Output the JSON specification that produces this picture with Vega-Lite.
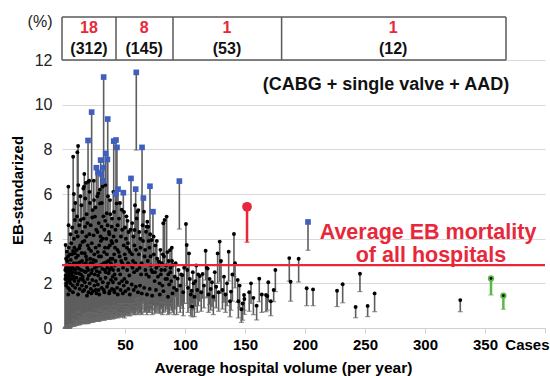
{
"$schema":"https://vega.github.io/schema/vega-lite/v6.json",
"width":483,"height":311,
"autosize":{"type":"none"},
"padding":{"left":62,"top":17,"right":5,"bottom":48},
"config":{"font":"Liberation Sans","view":{"stroke":null}},
"datasets":{
"h":[
{"x":0.5,"hi":3.72,"lo":0.05,"g":"n"},{"x":0.8,"hi":2.7,"lo":0,"g":"n"},{"x":1.2,"hi":2.55,"lo":0,"g":"n"},{"x":1.6,"hi":3.42,"lo":0.05,"g":"n"},{"x":2.0,"hi":2.62,"lo":0,"g":"n"},{"x":2.4,"hi":2.48,"lo":0,"g":"n"},{"x":2.8,"hi":6.33,"lo":0.3,"g":"n"},{"x":3.1,"hi":2.72,"lo":0.05,"g":"n"},{"x":3.5,"hi":2.4,"lo":0,"g":"n"},{"x":3.9,"hi":2.85,"lo":0.1,"g":"n"},{"x":4.3,"hi":2.55,"lo":0.05,"g":"n"},{"x":4.8,"hi":3.05,"lo":0.1,"g":"n"},
{"x":5.3,"hi":2.68,"lo":0.1,"g":"n"},{"x":5.8,"hi":3.3,"lo":0.15,"g":"n"},{"x":6.2,"hi":2.5,"lo":0.1,"g":"n"},{"x":6.9,"hi":5.28,"lo":0.35,"g":"n"},{"x":7.3,"hi":2.9,"lo":0.15,"g":"n"},{"x":7.8,"hi":3.6,"lo":0.2,"g":"n"},{"x":8.3,"hi":4.84,"lo":0.3,"g":"n"},{"x":8.8,"hi":2.6,"lo":0.15,"g":"n"},{"x":9.2,"hi":3.15,"lo":0.2,"g":"n"},{"x":9.7,"hi":3.49,"lo":0.25,"g":"n"},
{"x":10.2,"hi":2.75,"lo":0.2,"g":"n"},{"x":10.6,"hi":4.1,"lo":0.3,"g":"n"},{"x":11.1,"hi":6.4,"lo":0.5,"g":"n"},{"x":11.5,"hi":2.45,"lo":0.15,"g":"n"},{"x":11.9,"hi":3.57,"lo":0.3,"g":"n"},{"x":12.4,"hi":2.95,"lo":0.25,"g":"n"},{"x":13.0,"hi":4.84,"lo":0.4,"g":"n"},{"x":13.5,"hi":2.6,"lo":0.2,"g":"n"},{"x":13.9,"hi":3.36,"lo":0.3,"g":"n"},{"x":14.4,"hi":4.3,"lo":0.35,"g":"n"},{"x":14.8,"hi":2.3,"lo":0.2,"g":"n"},
{"x":15.3,"hi":6.25,"lo":0.6,"g":"n"},{"x":15.7,"hi":2.85,"lo":0.3,"g":"n"},{"x":16.2,"hi":3.9,"lo":0.35,"g":"n"},{"x":16.7,"hi":4.54,"lo":0.45,"g":"n"},{"x":17.1,"hi":2.5,"lo":0.25,"g":"n"},{"x":17.5,"hi":3.2,"lo":0.35,"g":"n"},{"x":18.0,"hi":5.1,"lo":0.5,"g":"n"},{"x":18.5,"hi":2.7,"lo":0.3,"g":"n"},{"x":19.0,"hi":3.7,"lo":0.4,"g":"n"},{"x":19.4,"hi":6.55,"lo":0.7,"g":"n"},{"x":19.8,"hi":2.35,"lo":0.25,"g":"n"},
{"x":20.3,"hi":4.2,"lo":0.45,"g":"n"},{"x":20.8,"hi":5.6,"lo":0.65,"g":"n"},{"x":21.2,"hi":2.9,"lo":0.35,"g":"n"},{"x":21.7,"hi":3.45,"lo":0.4,"g":"n"},{"x":22.5,"hi":2.6,"lo":0.3,"g":"n"},{"x":23.0,"hi":5.28,"lo":0.6,"g":"n"},{"x":23.6,"hi":3.05,"lo":0.4,"g":"n"},{"x":24.2,"hi":5.73,"lo":0.7,"g":"n"},{"x":24.7,"hi":2.4,"lo":0.3,"g":"n"},
{"x":25.0,"hi":4.99,"lo":0.65,"g":"n"},{"x":25.5,"hi":3.6,"lo":0.45,"g":"n"},{"x":26.6,"hi":2.75,"lo":0.4,"g":"n"},{"x":27.1,"hi":4.3,"lo":0.55,"g":"n"},{"x":27.8,"hi":6.03,"lo":0.8,"g":"n"},{"x":28.3,"hi":3.2,"lo":0.45,"g":"n"},{"x":28.8,"hi":2.5,"lo":0.35,"g":"n"},{"x":29.2,"hi":5.58,"lo":0.75,"g":"n"},{"x":29.9,"hi":3.9,"lo":0.5,"g":"n"},
{"x":30.4,"hi":4.54,"lo":0.65,"g":"n"},{"x":30.9,"hi":2.85,"lo":0.45,"g":"n"},{"x":31.3,"hi":6.33,"lo":0.9,"g":"n"},{"x":32.6,"hi":3.4,"lo":0.55,"g":"n"},{"x":33.1,"hi":2.6,"lo":0.4,"g":"n"},{"x":33.5,"hi":4.8,"lo":0.7,"g":"n"},{"x":34.3,"hi":2.95,"lo":0.5,"g":"n"},{"x":34.7,"hi":5.14,"lo":0.8,"g":"n"},
{"x":35.9,"hi":3.6,"lo":0.6,"g":"n"},{"x":36.4,"hi":2.45,"lo":0.4,"g":"n"},{"x":36.9,"hi":4.2,"lo":0.7,"g":"n"},{"x":37.5,"hi":5.73,"lo":0.9,"g":"n"},{"x":38.0,"hi":3.1,"lo":0.55,"g":"n"},{"x":38.5,"hi":2.7,"lo":0.5,"g":"n"},{"x":38.9,"hi":4.54,"lo":0.8,"g":"n"},{"x":39.4,"hi":3.8,"lo":0.7,"g":"n"},{"x":39.8,"hi":2.3,"lo":0.4,"g":"n"},
{"x":40.3,"hi":6.1,"lo":1.0,"g":"n"},{"x":41.0,"hi":3.3,"lo":0.6,"g":"n"},{"x":41.5,"hi":2.8,"lo":0.55,"g":"n"},{"x":42.0,"hi":4.4,"lo":0.8,"g":"n"},{"x":43.0,"hi":5.58,"lo":1.0,"g":"n"},{"x":43.7,"hi":3.5,"lo":0.7,"g":"n"},{"x":44.5,"hi":2.6,"lo":0.5,"g":"n"},
{"x":45.0,"hi":4.9,"lo":0.95,"g":"n"},{"x":45.5,"hi":3.2,"lo":0.65,"g":"n"},{"x":46.0,"hi":2.4,"lo":0.5,"g":"n"},{"x":46.6,"hi":4.1,"lo":0.85,"g":"n"},{"x":47.2,"hi":5.3,"lo":1.05,"g":"n"},{"x":47.8,"hi":2.9,"lo":0.6,"g":"n"},{"x":48.9,"hi":3.7,"lo":0.8,"g":"n"},{"x":49.5,"hi":2.2,"lo":0.45,"g":"n"},
{"x":50.0,"hi":4.5,"lo":0.95,"g":"n"},{"x":50.6,"hi":3.1,"lo":0.7,"g":"n"},{"x":51.2,"hi":5.0,"lo":1.1,"g":"n"},{"x":51.8,"hi":2.6,"lo":0.6,"g":"n"},{"x":52.4,"hi":3.8,"lo":0.85,"g":"n"},{"x":53.0,"hi":4.3,"lo":0.95,"g":"n"},{"x":53.6,"hi":2.35,"lo":0.55,"g":"n"},{"x":54.2,"hi":3.4,"lo":0.8,"g":"n"},{"x":55.3,"hi":2.8,"lo":0.7,"g":"n"},
{"x":56.0,"hi":4.7,"lo":1.1,"g":"n"},{"x":56.6,"hi":3.0,"lo":0.75,"g":"n"},{"x":57.0,"hi":4.1,"lo":1.0,"g":"n"},{"x":57.6,"hi":2.5,"lo":0.6,"g":"n"},{"x":58.0,"hi":4.39,"lo":1.1,"g":"n"},{"x":58.3,"hi":5.5,"lo":1.3,"g":"n"},{"x":59.7,"hi":4.91,"lo":1.2,"g":"n"},{"x":60.3,"hi":5.21,"lo":1.3,"g":"n"},
{"x":61.1,"hi":5.28,"lo":1.35,"g":"n"},{"x":61.6,"hi":3.3,"lo":0.85,"g":"n"},{"x":62.2,"hi":2.7,"lo":0.7,"g":"n"},{"x":62.8,"hi":4.0,"lo":1.0,"g":"n"},{"x":63.4,"hi":2.4,"lo":0.65,"g":"n"},{"x":64.7,"hi":4.6,"lo":1.2,"g":"n"},{"x":65.8,"hi":5.21,"lo":1.4,"g":"n"},
{"x":66.3,"hi":3.2,"lo":0.9,"g":"n"},{"x":67.0,"hi":2.6,"lo":0.75,"g":"n"},{"x":67.5,"hi":4.31,"lo":1.2,"g":"n"},{"x":68.0,"hi":4.54,"lo":1.3,"g":"n"},{"x":68.6,"hi":4.76,"lo":1.35,"g":"n"},{"x":69.0,"hi":3.0,"lo":0.85,"g":"n"},{"x":69.4,"hi":4.54,"lo":1.3,"g":"n"},{"x":69.9,"hi":2.3,"lo":0.7,"g":"n"},
{"x":70.3,"hi":3.6,"lo":1.05,"g":"n"},{"x":71.0,"hi":4.2,"lo":1.25,"g":"n"},{"x":71.6,"hi":2.8,"lo":0.85,"g":"n"},{"x":72.3,"hi":3.94,"lo":1.6,"g":"n"},{"x":73.0,"hi":2.5,"lo":0.8,"g":"n"},{"x":74.0,"hi":3.3,"lo":1.0,"g":"n"},{"x":74.7,"hi":2.1,"lo":0.65,"g":"n"},
{"x":75.3,"hi":3.7,"lo":1.2,"g":"n"},{"x":76.0,"hi":2.7,"lo":0.9,"g":"n"},{"x":76.8,"hi":3.1,"lo":1.0,"g":"n"},{"x":77.5,"hi":2.3,"lo":0.75,"g":"n"},{"x":78.3,"hi":2.97,"lo":1.63,"g":"n"},{"x":78.8,"hi":2.0,"lo":0.7,"g":"n"},{"x":79.5,"hi":3.5,"lo":1.15,"g":"n"},
{"x":80.2,"hi":2.6,"lo":0.9,"g":"n"},{"x":80.6,"hi":2.9,"lo":1.55,"g":"n"},{"x":81.2,"hi":1.9,"lo":0.6,"g":"n"},{"x":81.9,"hi":4.69,"lo":2.6,"g":"n"},{"x":82.5,"hi":3.2,"lo":1.1,"g":"n"},{"x":83.0,"hi":4.84,"lo":2.75,"g":"n"},{"x":83.6,"hi":2.2,"lo":0.75,"g":"n"},{"x":84.2,"hi":2.8,"lo":1.0,"g":"n"},{"x":84.7,"hi":4.99,"lo":2.7,"g":"n"},{"x":85.3,"hi":3.4,"lo":1.2,"g":"n"},
{"x":86.0,"hi":2.4,"lo":0.85,"g":"n"},{"x":86.8,"hi":1.95,"lo":0.65,"g":"n"},{"x":87.5,"hi":3.49,"lo":2.15,"g":"n"},{"x":87.8,"hi":2.5,"lo":0.95,"g":"n"},{"x":88.5,"hi":2.1,"lo":0.8,"g":"n"},{"x":89.2,"hi":3.0,"lo":1.1,"g":"n"},{"x":90.0,"hi":2.82,"lo":1.4,"g":"n"},
{"x":90.8,"hi":1.8,"lo":0.6,"g":"n"},{"x":91.5,"hi":2.3,"lo":0.85,"g":"n"},{"x":92.2,"hi":2.9,"lo":1.4,"g":"n"},{"x":93.0,"hi":1.7,"lo":0.6,"g":"n"},{"x":93.9,"hi":2.21,"lo":0.96,"g":"n"},{"x":94.6,"hi":2.6,"lo":1.0,"g":"n"},{"x":96.0,"hi":1.9,"lo":0.7,"g":"n"},{"x":96.8,"hi":2.4,"lo":1.0,"g":"n"},{"x":97.8,"hi":2.37,"lo":0.88,"g":"n"},{"x":98.5,"hi":1.6,"lo":0.55,"g":"n"},{"x":99.3,"hi":2.7,"lo":1.1,"g":"n"},
{"x":100.8,"hi":4.66,"lo":2.7,"g":"n"},{"x":101.4,"hi":3.72,"lo":1.9,"g":"n"},{"x":101.9,"hi":2.6,"lo":1.1,"g":"n"},{"x":102.5,"hi":1.8,"lo":0.7,"g":"n"},{"x":103.3,"hi":3.34,"lo":2.15,"g":"n"},{"x":104.0,"hi":2.2,"lo":0.9,"g":"n"},{"x":104.8,"hi":1.5,"lo":0.55,"g":"n"},{"x":105.6,"hi":1.67,"lo":0.8,"g":"n"},{"x":105.9,"hi":0.96,"lo":0.5,"g":"n"},{"x":106.5,"hi":2.5,"lo":1.1,"g":"n"},{"x":107.2,"hi":2.0,"lo":0.85,"g":"n"},{"x":107.8,"hi":1.4,"lo":0.51,"g":"n"},{"x":108.6,"hi":2.1,"lo":0.96,"g":"n"},{"x":109.4,"hi":2.8,"lo":1.3,"g":"n"},
{"x":110.2,"hi":1.7,"lo":0.7,"g":"n"},{"x":111.0,"hi":2.4,"lo":1.0,"g":"n"},{"x":112.3,"hi":2.33,"lo":1.2,"g":"n"},{"x":113.5,"hi":1.6,"lo":0.75,"g":"n"},{"x":114.7,"hi":2.42,"lo":1.33,"g":"n"},{"x":115.8,"hi":1.9,"lo":0.9,"g":"n"},{"x":117.2,"hi":3.46,"lo":2.15,"g":"n"},{"x":118.1,"hi":2.7,"lo":1.35,"g":"n"},{"x":118.9,"hi":2.66,"lo":1.4,"g":"n"},{"x":119.6,"hi":1.5,"lo":0.7,"g":"n"},
{"x":120.5,"hi":2.2,"lo":1.05,"g":"n"},{"x":121.4,"hi":1.75,"lo":0.8,"g":"n"},{"x":122.5,"hi":2.05,"lo":0.96,"g":"n"},{"x":123.6,"hi":1.4,"lo":0.6,"g":"n"},{"x":124.8,"hi":2.5,"lo":1.2,"g":"n"},{"x":126.0,"hi":1.85,"lo":0.9,"g":"n"},{"x":127.2,"hi":3.34,"lo":2.0,"g":"n"},{"x":128.0,"hi":1.6,"lo":0.75,"g":"n"},{"x":128.9,"hi":3.87,"lo":2.07,"g":"n"},{"x":130.0,"hi":3.0,"lo":1.55,"g":"n"},
{"x":131.2,"hi":1.7,"lo":0.85,"g":"n"},{"x":132.5,"hi":2.3,"lo":1.15,"g":"n"},{"x":133.8,"hi":1.5,"lo":0.7,"g":"n"},{"x":135.0,"hi":2.0,"lo":1.0,"g":"n"},{"x":136.4,"hi":3.42,"lo":2.1,"g":"n"},{"x":137.5,"hi":1.2,"lo":0.5,"g":"n"},{"x":138.3,"hi":1.63,"lo":0.8,"g":"n"},{"x":139.5,"hi":2.4,"lo":1.2,"g":"n"},
{"x":140.8,"hi":4.21,"lo":2.3,"g":"n"},{"x":141.7,"hi":2.9,"lo":1.8,"g":"n"},{"x":143.9,"hi":2.15,"lo":1.15,"g":"n"},{"x":144.5,"hi":1.2,"lo":0.45,"g":"n"},{"x":145.5,"hi":1.9,"lo":0.9,"g":"n"},{"x":147.0,"hi":0.84,"lo":0.25,"g":"n"},{"x":148.0,"hi":1.1,"lo":0.35,"g":"n"},{"x":149.2,"hi":1.48,"lo":0.8,"g":"n"},{"x":149.5,"hi":1.3,"lo":0.61,"g":"n"},
{"x":153.5,"hi":1.6,"lo":0.75,"g":"n"},{"x":155.0,"hi":2.0,"lo":1.1,"g":"n"},{"x":157.0,"hi":1.35,"lo":0.6,"g":"n"},{"x":159.7,"hi":1.0,"lo":0.36,"g":"n"},{"x":161.9,"hi":2.21,"lo":1.18,"g":"n"},{"x":164.0,"hi":1.5,"lo":0.7,"g":"n"},{"x":167.5,"hi":1.48,"lo":0.73,"g":"n"},{"x":168.6,"hi":1.43,"lo":0.8,"g":"n"},{"x":169.4,"hi":2.05,"lo":1.18,"g":"n"},{"x":171.5,"hi":1.2,"lo":0.55,"g":"n"},{"x":173.9,"hi":1.7,"lo":1.18,"g":"n"},{"x":175.3,"hi":2.6,"lo":1.63,"g":"n"},
{"x":186.9,"hi":3.13,"lo":2.1,"g":"n"},{"x":188.0,"hi":2.07,"lo":1.2,"g":"n"},{"x":194.7,"hi":3.1,"lo":2.06,"g":"n"},{"x":201.4,"hi":1.78,"lo":1.0,"g":"n"},{"x":206.7,"hi":1.73,"lo":1.0,"g":"n"},{"x":226.7,"hi":1.67,"lo":0.96,"g":"n"},{"x":231.4,"hi":1.96,"lo":1.13,"g":"n"},{"x":242.2,"hi":0.94,"lo":0.46,"g":"n"},{"x":245.8,"hi":2.43,"lo":1.63,"g":"n"},{"x":252.2,"hi":0.99,"lo":0.51,"g":"n"},{"x":258.0,"hi":1.55,"lo":0.73,"g":"n"},{"x":329.4,"hi":1.25,"lo":0.73,"g":"n"},
{"x":0.3,"hi":2.2,"lo":0,"g":"n"},{"x":1.0,"hi":1.9,"lo":0,"g":"n"},{"x":1.4,"hi":2.3,"lo":0,"g":"n"},{"x":2.2,"hi":2.1,"lo":0,"g":"n"},{"x":2.6,"hi":1.8,"lo":0,"g":"n"},{"x":3.3,"hi":2.2,"lo":0,"g":"n"},{"x":4.0,"hi":1.7,"lo":0,"g":"n"},{"x":4.5,"hi":2.0,"lo":0.05,"g":"n"},{"x":5.5,"hi":2.2,"lo":0.1,"g":"n"},{"x":6.5,"hi":1.9,"lo":0.1,"g":"n"},{"x":7.0,"hi":2.3,"lo":0.1,"g":"n"},{"x":8.0,"hi":2.1,"lo":0.1,"g":"n"},{"x":8.5,"hi":1.8,"lo":0.1,"g":"n"},{"x":9.5,"hi":2.25,"lo":0.15,"g":"n"},
{"x":10.4,"hi":1.95,"lo":0.15,"g":"n"},{"x":11.3,"hi":2.1,"lo":0.15,"g":"n"},{"x":12.2,"hi":1.75,"lo":0.15,"g":"n"},{"x":12.8,"hi":2.2,"lo":0.2,"g":"n"},{"x":14.1,"hi":1.9,"lo":0.2,"g":"n"},{"x":15.0,"hi":2.15,"lo":0.2,"g":"n"},{"x":16.0,"hi":1.7,"lo":0.2,"g":"n"},{"x":16.5,"hi":2.05,"lo":0.2,"g":"n"},{"x":17.8,"hi":1.85,"lo":0.2,"g":"n"},{"x":18.8,"hi":2.2,"lo":0.25,"g":"n"},{"x":19.6,"hi":1.6,"lo":0.2,"g":"n"},
{"x":20.6,"hi":2.0,"lo":0.25,"g":"n"},{"x":21.5,"hi":1.75,"lo":0.25,"g":"n"},{"x":22.8,"hi":2.15,"lo":0.3,"g":"n"},{"x":23.3,"hi":1.65,"lo":0.25,"g":"n"},{"x":24.5,"hi":1.9,"lo":0.3,"g":"n"},{"x":25.8,"hi":2.1,"lo":0.35,"g":"n"},{"x":26.3,"hi":1.55,"lo":0.3,"g":"n"},{"x":27.4,"hi":1.95,"lo":0.35,"g":"n"},{"x":28.0,"hi":1.7,"lo":0.3,"g":"n"},{"x":29.5,"hi":2.2,"lo":0.4,"g":"n"},
{"x":30.6,"hi":1.8,"lo":0.35,"g":"n"},{"x":31.5,"hi":2.05,"lo":0.4,"g":"n"},{"x":32.9,"hi":1.6,"lo":0.35,"g":"n"},{"x":33.8,"hi":2.25,"lo":0.45,"g":"n"},{"x":35.0,"hi":1.85,"lo":0.4,"g":"n"},{"x":36.0,"hi":2.0,"lo":0.45,"g":"n"},{"x":37.2,"hi":1.65,"lo":0.4,"g":"n"},{"x":38.3,"hi":2.15,"lo":0.5,"g":"n"},{"x":39.1,"hi":1.75,"lo":0.45,"g":"n"},
{"x":40.0,"hi":2.05,"lo":0.5,"g":"n"},{"x":41.2,"hi":1.6,"lo":0.45,"g":"n"},{"x":42.3,"hi":2.2,"lo":0.55,"g":"n"},{"x":43.4,"hi":1.8,"lo":0.5,"g":"n"},{"x":44.0,"hi":1.5,"lo":0.45,"g":"n"},{"x":45.2,"hi":2.0,"lo":0.55,"g":"n"},{"x":46.3,"hi":1.7,"lo":0.5,"g":"n"},{"x":47.5,"hi":2.1,"lo":0.6,"g":"n"},{"x":48.2,"hi":1.55,"lo":0.5,"g":"n"},{"x":49.0,"hi":1.9,"lo":0.55,"g":"n"},
{"x":50.3,"hi":1.65,"lo":0.55,"g":"n"},{"x":51.5,"hi":2.05,"lo":0.65,"g":"n"},{"x":52.8,"hi":1.75,"lo":0.6,"g":"n"},{"x":54.0,"hi":1.5,"lo":0.55,"g":"n"},{"x":55.6,"hi":1.95,"lo":0.65,"g":"n"},{"x":57.3,"hi":1.7,"lo":0.6,"g":"n"},{"x":59.0,"hi":1.85,"lo":0.65,"g":"n"},{"x":60.8,"hi":1.6,"lo":0.6,"g":"n"},{"x":62.5,"hi":1.9,"lo":0.7,"g":"n"},{"x":64.0,"hi":1.55,"lo":0.6,"g":"n"},
{"x":66.0,"hi":1.8,"lo":0.7,"g":"n"},{"x":68.3,"hi":1.5,"lo":0.6,"g":"n"},{"x":70.6,"hi":1.75,"lo":0.7,"g":"n"},{"x":72.6,"hi":1.45,"lo":0.6,"g":"n"},{"x":75.8,"hi":1.7,"lo":0.7,"g":"n"},{"x":79.0,"hi":1.5,"lo":0.65,"g":"n"},{"x":82.0,"hi":1.65,"lo":0.7,"g":"n"},{"x":85.8,"hi":1.4,"lo":0.6,"g":"n"},{"x":89.6,"hi":1.55,"lo":0.7,"g":"n"},
{"x":0.2,"hi":2.6,"lo":0,"g":"n"},{"x":0.6,"hi":2.35,"lo":0,"g":"n"},{"x":0.9,"hi":3.1,"lo":0,"g":"n"},{"x":1.1,"hi":2.0,"lo":0,"g":"n"},{"x":1.3,"hi":2.8,"lo":0,"g":"n"},{"x":1.7,"hi":2.2,"lo":0,"g":"n"},{"x":1.9,"hi":3.0,"lo":0.05,"g":"n"},{"x":2.1,"hi":2.5,"lo":0,"g":"n"},{"x":2.5,"hi":3.2,"lo":0.05,"g":"n"},{"x":2.9,"hi":2.3,"lo":0,"g":"n"},
{"x":3.2,"hi":3.6,"lo":0.1,"g":"n"},{"x":3.4,"hi":2.65,"lo":0.05,"g":"n"},{"x":3.7,"hi":2.1,"lo":0,"g":"n"},{"x":4.1,"hi":3.3,"lo":0.1,"g":"n"},{"x":4.4,"hi":2.45,"lo":0.05,"g":"n"},{"x":4.6,"hi":4.2,"lo":0.15,"g":"n"},{"x":5.0,"hi":2.55,"lo":0.1,"g":"n"},{"x":5.2,"hi":3.8,"lo":0.15,"g":"n"},{"x":5.6,"hi":2.35,"lo":0.1,"g":"n"},{"x":6.0,"hi":4.5,"lo":0.2,"g":"n"},
{"x":6.4,"hi":2.8,"lo":0.1,"g":"n"},{"x":6.7,"hi":3.45,"lo":0.15,"g":"n"},{"x":7.1,"hi":2.2,"lo":0.1,"g":"n"},{"x":7.5,"hi":4.0,"lo":0.2,"g":"n"},{"x":7.7,"hi":2.65,"lo":0.15,"g":"n"},{"x":8.1,"hi":3.35,"lo":0.2,"g":"n"},{"x":8.6,"hi":5.6,"lo":0.35,"g":"n"},{"x":9.0,"hi":2.45,"lo":0.15,"g":"n"},{"x":9.4,"hi":4.3,"lo":0.25,"g":"n"},{"x":9.9,"hi":2.9,"lo":0.2,"g":"n"},
{"x":10.0,"hi":5.0,"lo":0.35,"g":"n"},{"x":10.8,"hi":3.25,"lo":0.25,"g":"n"},{"x":11.7,"hi":2.65,"lo":0.2,"g":"n"},{"x":12.0,"hi":4.6,"lo":0.35,"g":"n"},{"x":12.6,"hi":3.7,"lo":0.3,"g":"n"},{"x":13.2,"hi":2.4,"lo":0.2,"g":"n"},{"x":13.7,"hi":5.5,"lo":0.45,"g":"n"},{"x":14.2,"hi":3.0,"lo":0.3,"g":"n"},{"x":14.6,"hi":3.85,"lo":0.35,"g":"n"},{"x":15.5,"hi":4.9,"lo":0.45,"g":"n"},
{"x":15.9,"hi":2.55,"lo":0.25,"g":"n"},{"x":16.4,"hi":3.35,"lo":0.35,"g":"n"},{"x":16.9,"hi":5.8,"lo":0.55,"g":"n"},{"x":17.3,"hi":2.9,"lo":0.3,"g":"n"},{"x":17.7,"hi":4.1,"lo":0.45,"g":"n"},{"x":18.2,"hi":3.05,"lo":0.35,"g":"n"},{"x":18.7,"hi":4.7,"lo":0.5,"g":"n"},{"x":19.3,"hi":2.6,"lo":0.3,"g":"n"},{"x":20.0,"hi":3.55,"lo":0.4,"g":"n"},{"x":20.5,"hi":6.1,"lo":0.7,"g":"n"},
{"x":21.0,"hi":3.1,"lo":0.4,"g":"n"},{"x":21.4,"hi":4.6,"lo":0.55,"g":"n"},{"x":21.9,"hi":2.45,"lo":0.3,"g":"n"},{"x":22.3,"hi":3.8,"lo":0.45,"g":"n"},{"x":22.7,"hi":4.95,"lo":0.6,"g":"n"},{"x":23.2,"hi":2.9,"lo":0.35,"g":"n"},{"x":23.8,"hi":4.15,"lo":0.5,"g":"n"},{"x":24.0,"hi":6.6,"lo":0.85,"g":"n"},{"x":24.4,"hi":3.3,"lo":0.45,"g":"n"},{"x":24.9,"hi":2.7,"lo":0.35,"g":"n"},
{"x":25.3,"hi":5.4,"lo":0.7,"g":"n"},{"x":25.7,"hi":3.0,"lo":0.4,"g":"n"},{"x":26.0,"hi":4.4,"lo":0.6,"g":"n"},{"x":26.4,"hi":2.55,"lo":0.35,"g":"n"},{"x":26.9,"hi":5.9,"lo":0.8,"g":"n"},{"x":27.3,"hi":3.4,"lo":0.5,"g":"n"},{"x":27.6,"hi":2.35,"lo":0.35,"g":"n"},{"x":28.1,"hi":4.7,"lo":0.65,"g":"n"},{"x":28.5,"hi":3.7,"lo":0.5,"g":"n"},{"x":29.0,"hi":6.2,"lo":0.9,"g":"n"},
{"x":29.4,"hi":2.8,"lo":0.4,"g":"n"},{"x":29.6,"hi":4.1,"lo":0.6,"g":"n"},{"x":30.1,"hi":3.2,"lo":0.5,"g":"n"},{"x":30.7,"hi":5.6,"lo":0.8,"g":"n"},{"x":31.1,"hi":2.65,"lo":0.4,"g":"n"},{"x":31.6,"hi":4.0,"lo":0.6,"g":"n"},{"x":32.0,"hi":5.0,"lo":0.75,"g":"n"},{"x":32.4,"hi":2.9,"lo":0.45,"g":"n"},{"x":32.8,"hi":4.4,"lo":0.7,"g":"n"},{"x":33.3,"hi":3.6,"lo":0.55,"g":"n"},
{"x":33.7,"hi":6.4,"lo":1.0,"g":"n"},{"x":34.0,"hi":2.5,"lo":0.4,"g":"n"},{"x":34.5,"hi":4.0,"lo":0.65,"g":"n"},{"x":34.9,"hi":3.3,"lo":0.55,"g":"n"},{"x":35.2,"hi":2.7,"lo":0.45,"g":"n"},{"x":35.5,"hi":4.6,"lo":0.75,"g":"n"},{"x":35.8,"hi":5.9,"lo":0.95,"g":"n"},{"x":36.2,"hi":3.0,"lo":0.5,"g":"n"},{"x":36.6,"hi":4.3,"lo":0.7,"g":"n"},{"x":37.0,"hi":2.6,"lo":0.45,"g":"n"},
{"x":37.3,"hi":3.7,"lo":0.6,"g":"n"},{"x":37.8,"hi":5.1,"lo":0.85,"g":"n"},{"x":38.2,"hi":2.9,"lo":0.5,"g":"n"},{"x":38.7,"hi":3.9,"lo":0.65,"g":"n"},{"x":39.2,"hi":4.9,"lo":0.85,"g":"n"},{"x":39.6,"hi":3.1,"lo":0.55,"g":"n"},{"x":40.1,"hi":2.6,"lo":0.5,"g":"n"},{"x":40.5,"hi":4.1,"lo":0.75,"g":"n"},{"x":40.9,"hi":5.2,"lo":0.95,"g":"n"},{"x":41.3,"hi":2.4,"lo":0.45,"g":"n"},
{"x":41.7,"hi":3.6,"lo":0.7,"g":"n"},{"x":42.1,"hi":3.0,"lo":0.6,"g":"n"},{"x":2.7,"hi":1.5,"lo":0,"g":"n"},{"x":6.6,"hi":1.6,"lo":0.1,"g":"n"},{"x":10.9,"hi":1.5,"lo":0.15,"g":"n"},{"x":14.9,"hi":1.65,"lo":0.2,"g":"n"},{"x":18.3,"hi":1.45,"lo":0.2,"g":"n"},{"x":22.0,"hi":1.55,"lo":0.25,"g":"n"},{"x":25.6,"hi":1.7,"lo":0.3,"g":"n"},{"x":28.6,"hi":1.5,"lo":0.3,"g":"n"},
{"x":32.3,"hi":1.7,"lo":0.35,"g":"n"},{"x":36.8,"hi":1.55,"lo":0.4,"g":"n"},{"x":40.8,"hi":1.7,"lo":0.45,"g":"n"},{"x":3.0,"hi":4.6,"lo":0.15,"g":"n"},{"x":7.4,"hi":6.0,"lo":0.4,"g":"n"},{"x":12.9,"hi":5.9,"lo":0.5,"g":"n"},{"x":16.1,"hi":6.9,"lo":0.6,"g":"n"},
{"x":6.8,"hi":7.67,"lo":0.6,"g":"n"},{"x":10.3,"hi":7.87,"lo":0.7,"g":"n"},{"x":10.9,"hi":8.15,"lo":0.75,"g":"n"},{"x":15.8,"hi":6.33,"lo":0.6,"g":"n"},{"x":17.4,"hi":6.5,"lo":0.65,"g":"n"},{"x":20.2,"hi":6.6,"lo":0.7,"g":"n"},
{"x":42.8,"hi":3.9,"lo":0.8,"g":"n"},{"x":43.9,"hi":4.6,"lo":0.9,"g":"n"},{"x":44.8,"hi":3.4,"lo":0.7,"g":"n"},{"x":45.8,"hi":5.6,"lo":1.1,"g":"n"},{"x":46.9,"hi":3.0,"lo":0.7,"g":"n"},{"x":47.6,"hi":4.4,"lo":0.95,"g":"n"},{"x":48.4,"hi":2.7,"lo":0.65,"g":"n"},{"x":49.2,"hi":5.2,"lo":1.1,"g":"n"},{"x":49.8,"hi":3.3,"lo":0.8,"g":"n"},{"x":50.8,"hi":4.0,"lo":0.95,"g":"n"},
{"x":51.6,"hi":3.6,"lo":0.85,"g":"n"},{"x":52.1,"hi":4.8,"lo":1.1,"g":"n"},{"x":52.6,"hi":2.9,"lo":0.75,"g":"n"},{"x":53.3,"hi":3.5,"lo":0.85,"g":"n"},{"x":54.6,"hi":4.4,"lo":1.05,"g":"n"},{"x":55.9,"hi":3.3,"lo":0.85,"g":"n"},{"x":56.3,"hi":2.7,"lo":0.75,"g":"n"},{"x":57.8,"hi":3.7,"lo":0.95,"g":"n"},{"x":58.6,"hi":2.9,"lo":0.8,"g":"n"},{"x":59.2,"hi":3.5,"lo":0.95,"g":"n"},
{"x":60.0,"hi":2.6,"lo":0.75,"g":"n"},{"x":61.9,"hi":4.3,"lo":1.15,"g":"n"},{"x":63.0,"hi":3.6,"lo":1.0,"g":"n"},{"x":63.8,"hi":2.9,"lo":0.85,"g":"n"},{"x":65.0,"hi":3.9,"lo":1.1,"g":"n"},{"x":66.8,"hi":3.5,"lo":1.0,"g":"n"},{"x":67.8,"hi":2.4,"lo":0.75,"g":"n"},{"x":69.7,"hi":3.9,"lo":1.15,"g":"n"},{"x":71.3,"hi":3.2,"lo":1.0,"g":"n"},{"x":72.0,"hi":2.6,"lo":0.85,"g":"n"},
{"x":73.8,"hi":4.1,"lo":1.3,"g":"n"},{"x":75.0,"hi":2.5,"lo":0.85,"g":"n"},{"x":76.5,"hi":3.9,"lo":1.3,"g":"n"},{"x":77.9,"hi":2.8,"lo":0.95,"g":"n"},{"x":79.8,"hi":2.4,"lo":0.85,"g":"n"},{"x":81.5,"hi":3.3,"lo":1.15,"g":"n"},{"x":83.3,"hi":2.6,"lo":0.95,"g":"n"},{"x":85.0,"hi":2.2,"lo":0.85,"g":"n"},{"x":86.4,"hi":3.0,"lo":1.1,"g":"n"},{"x":88.0,"hi":2.7,"lo":1.0,"g":"n"},{"x":89.0,"hi":3.6,"lo":1.5,"g":"n"},
{"x":19.2,"hi":8.4,"lo":2.9,"g":"b"},{"x":22.2,"hi":9.67,"lo":3.1,"g":"b"},{"x":26.1,"hi":7.18,"lo":3.0,"g":"b"},{"x":27.5,"hi":6.96,"lo":3.1,"g":"b"},{"x":29.7,"hi":7.52,"lo":3.2,"g":"b"},{"x":30.3,"hi":6.9,"lo":2.95,"g":"b"},{"x":31.7,"hi":7.18,"lo":3.0,"g":"b"},{"x":31.9,"hi":6.6,"lo":3.05,"g":"b"},{"x":32.2,"hi":11.24,"lo":3.3,"g":"b"},{"x":33.9,"hi":7.82,"lo":3.2,"g":"b"},{"x":35.3,"hi":7.55,"lo":3.15,"g":"b"},{"x":35.6,"hi":9.36,"lo":3.3,"g":"b"},
{"x":40.6,"hi":8.37,"lo":3.3,"g":"b"},{"x":42.2,"hi":6.0,"lo":3.0,"g":"b"},{"x":42.5,"hi":8.42,"lo":3.4,"g":"b"},{"x":43.3,"hi":8.09,"lo":3.3,"g":"b"},{"x":44.2,"hi":6.22,"lo":3.1,"g":"b"},{"x":48.6,"hi":6.06,"lo":3.05,"g":"b"},{"x":55.0,"hi":6.7,"lo":4.3,"g":"b"},{"x":58.9,"hi":6.22,"lo":4.09,"g":"b"},{"x":59.4,"hi":11.45,"lo":7.97,"g":"b"},{"x":64.2,"hi":8.09,"lo":3.42,"g":"b"},{"x":65.3,"hi":5.82,"lo":3.49,"g":"b"},{"x":70.8,"hi":6.35,"lo":3.64,"g":"b"},{"x":73.3,"hi":5.21,"lo":4.09,"g":"b"},{"x":95.3,"hi":6.58,"lo":4.43,"g":"b"},{"x":202.5,"hi":4.75,"lo":3.48,"g":"b"},
{"x":151.7,"hi":5.43,"lo":3.84,"g":"r"},
{"x":355.0,"hi":2.22,"lo":1.48,"g":"g"},{"x":365.3,"hi":1.45,"lo":0.84,"g":"g"}
],
"box":[
{"x":-2.5,"x2":-2.5,"y":12,"y2":13.93},{"x":42.5,"x2":42.5,"y":12,"y2":13.93},{"x":90,"x2":90,"y":12,"y2":13.93},{"x":180.5,"x2":180.5,"y":12,"y2":13.93},{"x":367.5,"x2":367.5,"y":12,"y2":13.93},
{"x":-2.5,"x2":367.5,"y":13.93,"y2":13.93},{"x":-2.5,"x2":367.5,"y":12,"y2":12}
]
},
"layer":[
{"data":{"name":"h"},"transform":[{"filter":"datum.g=='n'||datum.g=='b'"}],
 "mark":{"type":"rule","color":"#5e5e5e","strokeWidth":1.6},
 "encoding":{
  "x":{"field":"x","type":"quantitative","scale":{"domain":[-2.5,400],"nice":false,"zero":false},
   "axis":{"values":[50,100,150,200,250,300,350,400],"labelExpr":"datum.value==400?'Cases':datum.label","title":"Average hospital volume (per year)","titleFontSize":15.5,"titleFontWeight":"bold","titleColor":"#000","titleX":221,"titleY":39,"titleBaseline":"middle","titleAlign":"center","labelFontSize":15,"labelFontWeight":"bold","labelColor":"#000","labelPadding":4,"labelFlush":true,"labelFlushOffset":4,"domainColor":"#d0d0d0","tickColor":"#d0d0d0","tickSize":5,"grid":false}},
  "y":{"field":"hi","type":"quantitative","scale":{"domain":[0,13.93],"nice":false},
   "axis":{"values":[0,2,4,6,8,10,12,13.72],"labelExpr":"datum.value>13?'(%)':datum.label","title":"EB-standarized","titleFontSize":15,"titleFontWeight":"bold","titleColor":"#000","titleX":-45,"titleY":173,"titleAngle":-90,"titleAlign":"center","titleBaseline":"middle","labelFontSize":16,"labelColor":"#222","labelPadding":10,"ticks":false,"domain":false,"grid":true,"gridColor":"#d9d9d9","gridOpacity":{"condition":{"test":"datum.value>13","value":0},"value":1}}},
  "y2":{"field":"lo"}}},
{"data":{"name":"h"},
 "mark":{"type":"tick","orient":"horizontal","size":5,"thickness":1.2},
 "encoding":{"x":{"field":"x","type":"quantitative"},"y":{"field":"lo","type":"quantitative"},
  "color":{"field":"g","type":"nominal","scale":{"domain":["n","b","r","g"],"range":["#6a6a6a","#6a6a6a","#e8283a","#5cb846"]},"legend":null}}},
{"data":{"name":"h"},"transform":[{"filter":"datum.g=='r'||datum.g=='g'"}],
 "mark":{"type":"rule","strokeWidth":2.5},
 "encoding":{"x":{"field":"x","type":"quantitative"},"y":{"field":"hi","type":"quantitative"},"y2":{"field":"lo"},
  "color":{"field":"g","type":"nominal","legend":null}}},
{"data":{"name":"h"},"transform":[{"filter":"datum.g=='n'"}],
 "mark":{"type":"circle","color":"#000","size":15,"opacity":1},
 "encoding":{"x":{"field":"x","type":"quantitative"},"y":{"field":"hi","type":"quantitative"}}},
{"data":{"name":"h"},"transform":[{"filter":"datum.g=='b'"}],
 "mark":{"type":"square","color":"#3f5fbf","size":32,"opacity":1},
 "encoding":{"x":{"field":"x","type":"quantitative"},"y":{"field":"hi","type":"quantitative"}}},
{"data":{"name":"h"},"transform":[{"filter":"datum.g=='r'"}],
 "mark":{"type":"circle","color":"#e8283a","size":95,"opacity":1},
 "encoding":{"x":{"field":"x","type":"quantitative"},"y":{"field":"hi","type":"quantitative"}}},
{"data":{"name":"h"},"transform":[{"filter":"datum.g=='g'"}],
 "mark":{"type":"circle","color":"#5cb846","size":40,"opacity":1},
 "encoding":{"x":{"field":"x","type":"quantitative"},"y":{"field":"hi","type":"quantitative"}}},
{"data":{"name":"h"},"transform":[{"filter":"datum.g=='g'"}],
 "mark":{"type":"circle","color":"#000","size":7,"opacity":1},
 "encoding":{"x":{"field":"x","type":"quantitative"},"y":{"field":"hi","type":"quantitative"}}},
{"data":{"values":[{"avg":2.82}]},
 "mark":{"type":"rule","color":"#e8283a","strokeWidth":2.2},
 "encoding":{"y":{"field":"avg","type":"quantitative"}}},
{"data":{"name":"box"},
 "mark":{"type":"rule","color":"#5a5a5a","strokeWidth":1.5},
 "encoding":{"x":{"field":"x","type":"quantitative"},"x2":{"field":"x2"},"y":{"field":"y","type":"quantitative"},"y2":{"field":"y2"}}},
{"data":{"values":[{"x":20,"y":13.43,"t":"18"},{"x":66,"y":13.43,"t":"8"},{"x":135,"y":13.43,"t":"1"},{"x":273.5,"y":13.43,"t":"1"}]},
 "mark":{"type":"text","color":"#e8283a","fontSize":16,"fontWeight":"bold","baseline":"middle","align":"center"},
 "encoding":{"x":{"field":"x","type":"quantitative"},"y":{"field":"y","type":"quantitative"},"text":{"field":"t"}}},
{"data":{"values":[{"x":20,"y":12.49,"t":"(312)"},{"x":66,"y":12.49,"t":"(145)"},{"x":135,"y":12.49,"t":"(53)"},{"x":273.5,"y":12.49,"t":"(12)"}]},
 "mark":{"type":"text","color":"#111","fontSize":16,"fontWeight":"bold","baseline":"middle","align":"center"},
 "encoding":{"x":{"field":"x","type":"quantitative"},"y":{"field":"y","type":"quantitative"},"text":{"field":"t"}}},
{"data":{"values":[{"x":267.5,"y":10.88,"t":"(CABG + single valve + AAD)"}]},
 "mark":{"type":"text","color":"#111","fontSize":18,"fontWeight":"bold","baseline":"middle","align":"center"},
 "encoding":{"x":{"field":"x","type":"quantitative"},"y":{"field":"y","type":"quantitative"},"text":{"field":"t"}}},
{"data":{"values":[{"x":302.5,"y":4.25,"t":"Average EB mortality"},{"x":305,"y":3.22,"t":"of all hospitals"}]},
 "mark":{"type":"text","color":"#e8283a","fontSize":21.5,"fontWeight":"bold","baseline":"middle","align":"center"},
 "encoding":{"x":{"field":"x","type":"quantitative"},"y":{"field":"y","type":"quantitative"},"text":{"field":"t"}}}
]
}
